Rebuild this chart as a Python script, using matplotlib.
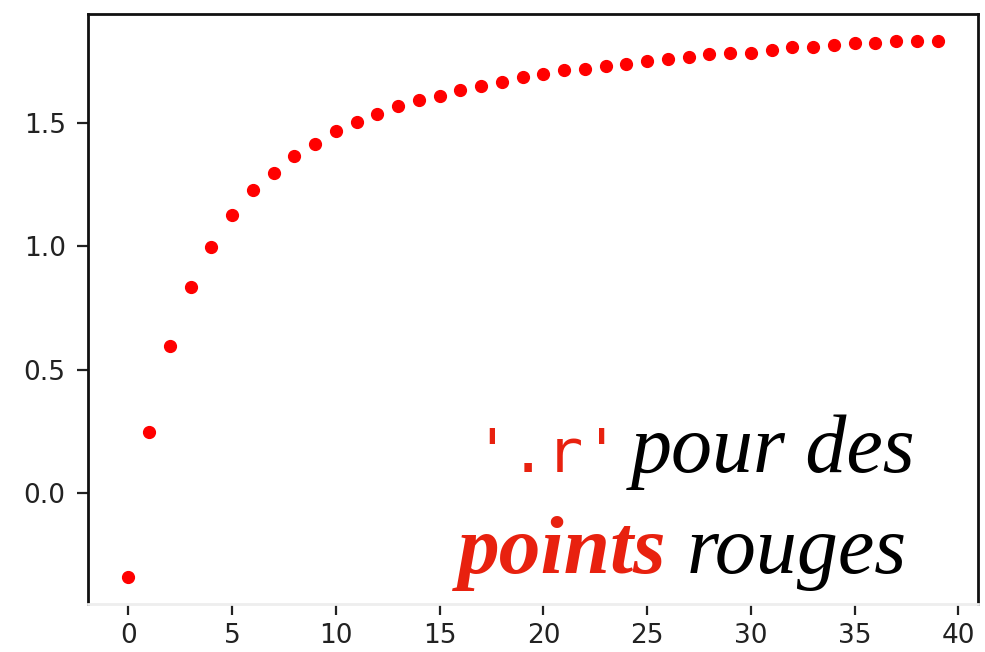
import numpy as np
import matplotlib
matplotlib.use("Agg")
import matplotlib.pyplot as plt

# valeurs (x = 0..39)
x = np.arange(40)
y = [-0.34, 0.247, 0.597, 0.836, 0.997, 1.125, 1.226, 1.297, 1.363, 1.414,
     1.464, 1.501, 1.535, 1.566, 1.591, 1.609, 1.632, 1.648, 1.665, 1.685,
     1.696, 1.712, 1.716, 1.730, 1.739, 1.750, 1.758, 1.766, 1.777, 1.783,
     1.783, 1.793, 1.804, 1.804, 1.815, 1.824, 1.824, 1.831, 1.831, 1.831]

xticks = [0, 5, 10, 15, 20, 25, 30, 35, 40]
yticks = [0.0, 0.5, 1.0, 1.5]

RED_TXT = '#e8210f'


def main():
    fig = plt.figure(figsize=(9.85, 6.52), dpi=100)
    ax = fig.add_axes([0.0893, 0.0736, 0.9037, 0.905])

    ax.plot(x, y, '.r', markersize=17)

    ax.set_xticks(xticks)
    ax.set_yticks(yticks)
    ax.set_yticklabels([f"{v:.1f}" for v in yticks])
    ax.tick_params(labelsize=19, length=8, width=1.6, pad=8, colors='#222222')
    ax.tick_params(axis='x', pad=6)

    for side in ['left', 'top', 'right']:
        ax.spines[side].set_linewidth(2)
        ax.spines[side].set_color('#111111')
    ax.spines['bottom'].set_linewidth(2)
    ax.spines['bottom'].set_color('#eeeeee')

    # legende en texte mixte
    fig.text(0.480, 0.276, "'.r'", color=RED_TXT, family='DejaVu Sans Mono',
             fontsize=44, va='baseline', ha='left')
    fig.text(0.640, 0.276, "pour des", color='black', family='Liberation Serif',
             style='italic', fontsize=59, va='baseline', ha='left')
    fig.text(0.465, 0.121, "points", color=RED_TXT, family='Liberation Serif',
             style='italic', weight='bold', fontsize=60, va='baseline', ha='left')
    fig.text(0.697, 0.121, "rouges", color='black', family='Liberation Serif',
             style='italic', fontsize=59, va='baseline', ha='left')

    fig.savefig("out.png", dpi=100)


if __name__ == '__main__':
    main()
